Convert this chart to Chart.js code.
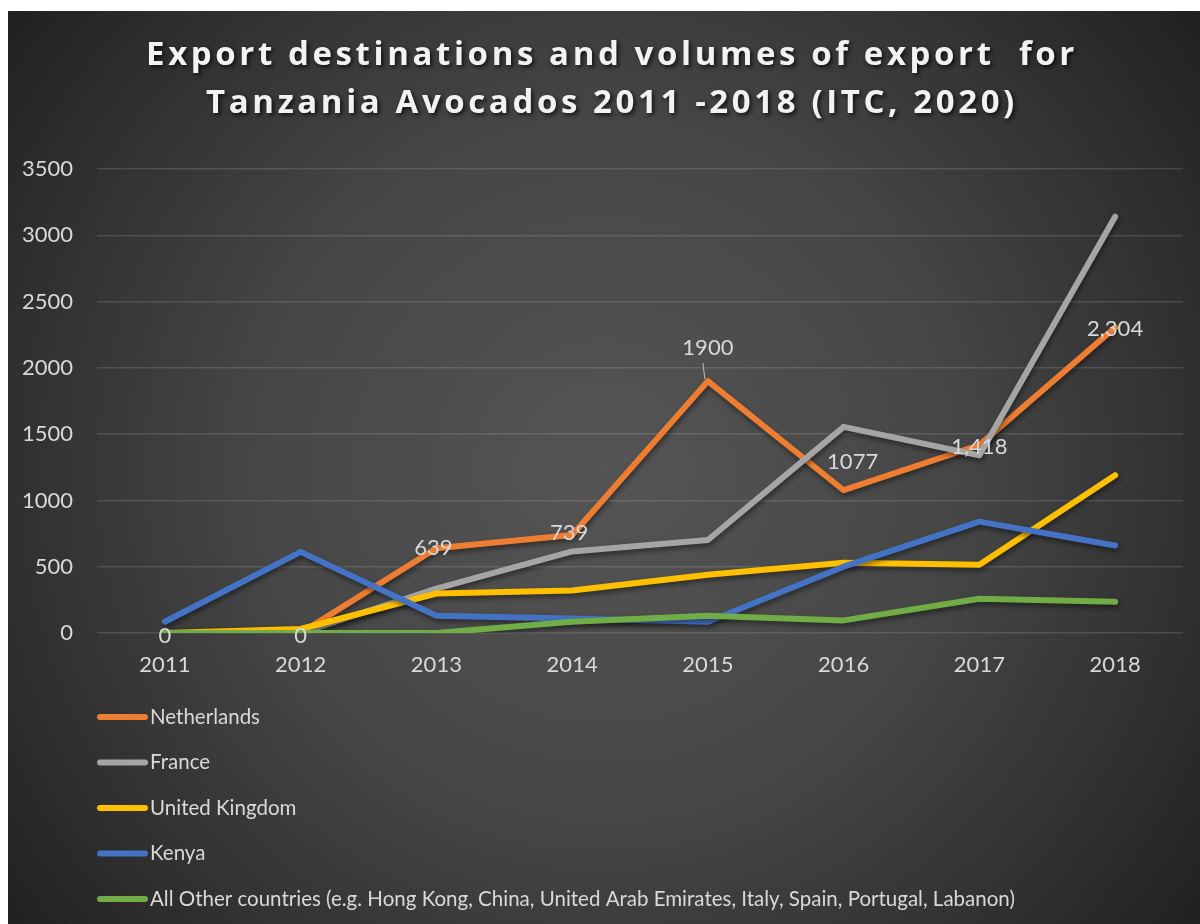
<!DOCTYPE html>
<html>
<head>
<meta charset="utf-8">
<title>Tanzania Avocado exports 2011-2018</title>
<script src="https://cdn.jsdelivr.net/npm/chart.js@4.4.1/dist/chart.umd.min.js"></script>
<style>
  html, body { margin: 0; padding: 0; background: #ffffff; }
  #wrap { width: 1200px; height: 924px; }
</style>
</head>
<body>
<div id="wrap"><canvas id="exportChart" width="1200" height="924"></canvas></div>
<script>
// ---- data (tonnes exported per destination) ----
const years = ['2011', '2012', '2013', '2014', '2015', '2016', '2017', '2018'];
const netherlands = [0, 0, 639, 739, 1900, 1077, 1418, 2304];
const france = [0, 0, 335, 615, 702, 1555, 1340, 3140];
const unitedKingdom = [0, 30, 298, 320, 440, 530, 515, 1190];
const kenya = [85, 612, 130, 110, 85, 500, 840, 660];
const otherCountries = [0, 0, 0, 85, 130, 95, 258, 235];
const yTicks = [0, 500, 1000, 1500, 2000, 2500, 3000, 3500];

const seriesNames = [
    'Netherlands',
    'France',
    'United Kingdom',
    'Kenya',
    'All Other countries (e.g. Hong Kong, China, United Arab Emirates, Italy, Spain, Portugal, Labanon)'
];
const seriesColors = ['#ED7D31', '#A5A5A5', '#FFC000', '#4472C4', '#70AD47'];

// Netherlands value labels: last two use thousands separators
const nlLabelFormat = ['plain', 'plain', 'plain', 'plain', 'plain', 'plain', 'comma', 'comma'];

const titleLines = [
    'Export destinations and volumes of export  for',
    'Tanzania Avocados 2011 -2018 (ITC, 2020)'
];

const TEXT = '#d9d9d9';
const FONT = 'Lato, "Open Sans", sans-serif';

// dark radial panel behind everything
const panelBackground = {
    id: 'panelBackground',
    beforeDraw(chart) {
        const ctx = chart.ctx;
        ctx.save();
        ctx.fillStyle = '#ffffff';
        ctx.fillRect(0, 0, chart.width, chart.height);
        const g = ctx.createRadialGradient(604, 470, 0, 604, 470, 780);
        g.addColorStop(0, '#555555');
        g.addColorStop(0.45, '#464646');
        g.addColorStop(0.76, '#303030');
        g.addColorStop(1, '#1e1e1e');
        ctx.fillStyle = g;
        ctx.fillRect(8, 11, chart.width - 8, chart.height - 11);
        ctx.restore();
    }
};

// bold spaced title with a drop shadow
const spacedTitle = {
    id: 'spacedTitle',
    afterDraw(chart) {
        const ctx = chart.ctx;
        ctx.save();
        ctx.font = 'bold 33px "Open Sans", sans-serif';
        ctx.letterSpacing = '3.6px';
        ctx.fillStyle = '#f2f2f2';
        ctx.textAlign = 'center';
        ctx.textBaseline = 'alphabetic';
        ctx.shadowColor = 'rgba(0,0,0,0.75)';
        ctx.shadowBlur = 4;
        ctx.shadowOffsetX = 2;
        ctx.shadowOffsetY = 2;
        titleLines.forEach((line, i) => {
            ctx.fillText(line, 612, 65 + i * 48);
        });
        ctx.restore();
    }
};

// soft shadow under the lines
const lineShadow = {
    id: 'lineShadow',
    beforeDatasetsDraw(chart) {
        const ctx = chart.ctx;
        ctx.save();
        ctx.shadowColor = 'rgba(0,0,0,0.45)';
        ctx.shadowBlur = 5;
        ctx.shadowOffsetX = 1;
        ctx.shadowOffsetY = 3;
    },
    afterDatasetsDraw(chart) {
        chart.ctx.restore();
    }
};

// value labels on the Netherlands series
const nlValueLabels = {
    id: 'nlValueLabels',
    afterDatasetsDraw(chart) {
        const meta = chart.getDatasetMeta(0);
        const ctx = chart.ctx;
        // label offsets from the point (dx, dy) and whether a leader line is drawn
        const shift = [
            [0, 3, false], [0, 3, false], [-3, 0, false], [-3, -2, false],
            [0, -33, true], [9, -28, false], [0, 2, false], [0, 1, false]
        ];
        ctx.save();
        ctx.font = '22px ' + FONT;
        ctx.fillStyle = TEXT;
        ctx.textAlign = 'center';
        ctx.textBaseline = 'middle';
        meta.data.forEach((pt, i) => {
            const v = netherlands[i];
            const txt = nlLabelFormat[i] === 'comma' ? v.toLocaleString('en-US') : String(v);
            const [dx, dy, leader] = shift[i];
            if (leader) {
                ctx.strokeStyle = '#bfbfbf';
                ctx.lineWidth = 1;
                ctx.beginPath();
                ctx.moveTo(pt.x - 5, pt.y + dy + 15);
                ctx.lineTo(pt.x - 3, pt.y - 2);
                ctx.stroke();
            }
            ctx.fillText(txt, pt.x + dx, pt.y + dy);
        });
        ctx.restore();
    }
};

// one-per-row legend under the axis
const stackedLegend = {
    id: 'stackedLegend',
    afterDraw(chart) {
        const ctx = chart.ctx;
        const x0 = chart.chartArea.left;
        const y0 = chart.chartArea.bottom + 84;
        ctx.save();
        ctx.font = '20.5px ' + FONT;
        ctx.textAlign = 'left';
        ctx.textBaseline = 'middle';
        ctx.lineCap = 'round';
        chart.data.datasets.forEach((ds, i) => {
            const y = y0 + i * 45.5;
            ctx.strokeStyle = ds.borderColor;
            ctx.lineWidth = 6;
            ctx.beginPath();
            ctx.moveTo(x0 + 3, y);
            ctx.lineTo(x0 + 48, y);
            ctx.stroke();
            ctx.fillStyle = TEXT;
            ctx.fillText(ds.label, x0 + 53, y);
        });
        ctx.restore();
    }
};

const seriesValues = [netherlands, france, unitedKingdom, kenya, otherCountries];

const datasets = seriesValues.map((values, i) => ({
    label: seriesNames[i],
    data: values,
    borderColor: seriesColors[i],
    backgroundColor: seriesColors[i],
    borderWidth: 6,
    borderCapStyle: 'round',
    borderJoinStyle: 'round',
    pointRadius: 0,
    tension: 0,
    fill: false,
    // later series are painted on top
    order: seriesValues.length - 1 - i
}));

new Chart(document.getElementById('exportChart').getContext('2d'), {
    type: 'line',
    data: { labels: years, datasets },
    options: {
        responsive: false,
        animation: false,
        events: [],
        layout: { padding: { left: 8, right: 17, top: 169, bottom: 247 } },
        plugins: {
            legend: { display: false },
            title: { display: false },
            tooltip: { enabled: false }
        },
        scales: {
            x: {
                offset: true,
                afterFit: s => { s.height = 44; },
                grid: { display: false, drawTicks: false },
                border: { display: false },
                ticks: { color: TEXT, font: { family: FONT, size: 22 }, padding: 19 }
            },
            y: {
                min: yTicks[0],
                max: yTicks[yTicks.length - 1],
                afterBuildTicks: s => { s.ticks = yTicks.map(v => ({ value: v })); },
                afterFit: s => { s.width = 89; },
                grid: { color: 'rgba(255,255,255,0.13)', lineWidth: 1.5, drawTicks: false },
                border: { display: false },
                ticks: {
                    color: TEXT,
                    font: { family: FONT, size: 22 },
                    padding: 24,
                    callback: v => String(v)
                }
            }
        }
    },
    plugins: [panelBackground, lineShadow, nlValueLabels, stackedLegend, spacedTitle]
});
</script>
</body>
</html>
